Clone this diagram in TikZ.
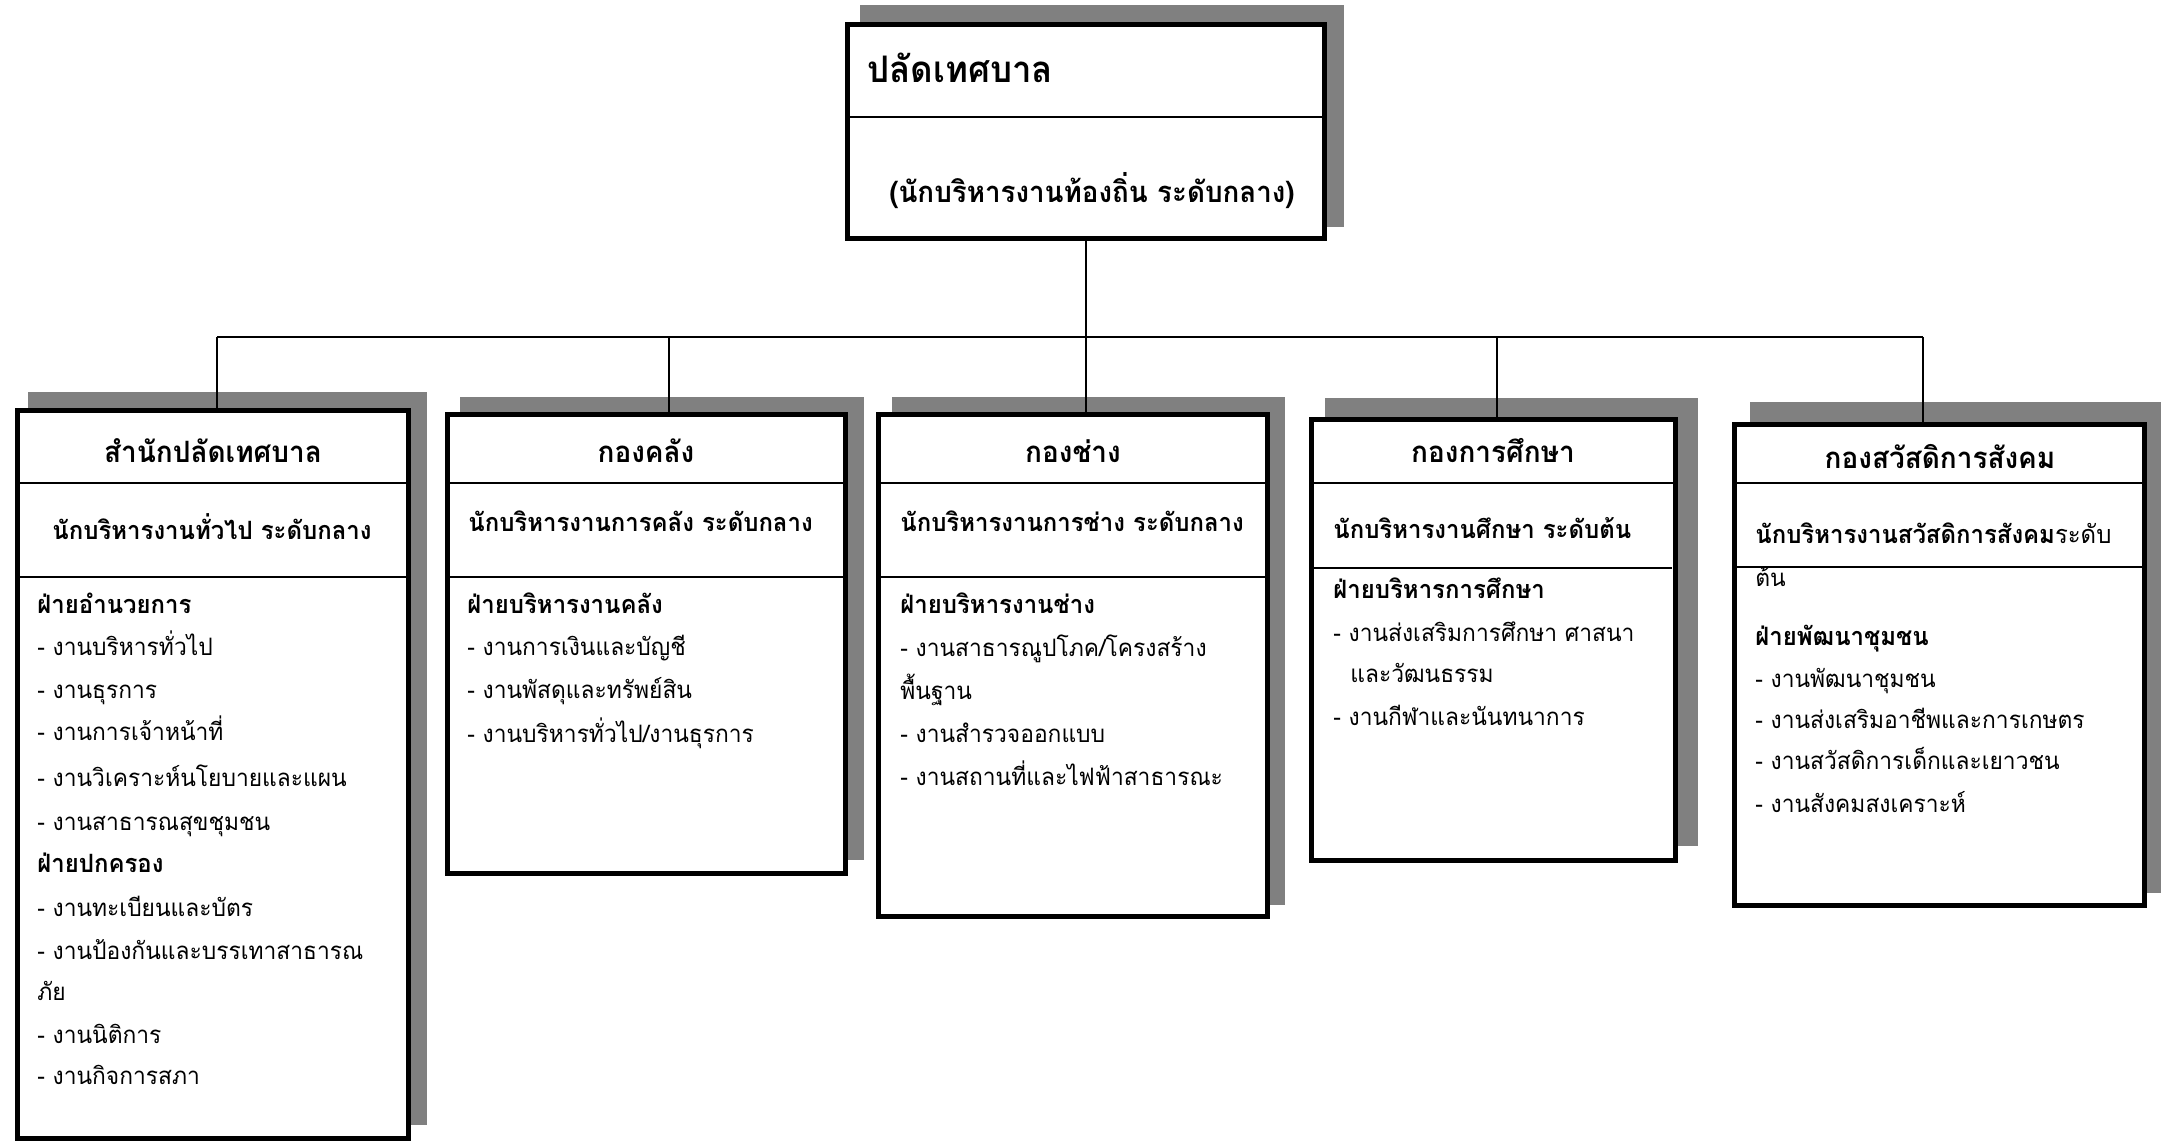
\documentclass[tikz,border=0pt]{standalone}
\usepackage{fontspec}
\newfontfamily\thai[Script=Thai, FakeStretch=0.95]{Loma}
\usetikzlibrary{calc}
\definecolor{shgray}{HTML}{808080}
\tikzset{
  orgbox/.style={draw=black, line width=2.5pt, fill=white, inner sep=0pt, outer sep=0pt, anchor=north west},
  divline/.style={line width=1pt},
  conn/.style={line width=1pt},
  toptitle/.style={font=\thai\bfseries\fontsize{18.3}{20}\selectfont, inner sep=0pt, anchor=base west},
  topsub/.style={font=\thai\bfseries\fontsize{14.6}{17}\selectfont, inner sep=0pt, anchor=base},
  ttl/.style={font=\thai\bfseries\fontsize{14.7}{17}\selectfont, inner sep=0pt, anchor=base},
  subc/.style={font=\thai\bfseries\fontsize{12.6}{15}\selectfont, inner sep=0pt, anchor=base},
  subl/.style={font=\thai\bfseries\fontsize{12.6}{15}\selectfont, inner sep=0pt, anchor=base west},
  head/.style={font=\thai\bfseries\fontsize{12.6}{14}\selectfont, inner sep=0pt, anchor=base west},
  item/.style={font=\thai\fontsize{12}{14}\selectfont, inner sep=0pt, anchor=base west},
}
\newcommand\obox[5]{\node[orgbox, minimum width={(#4-#2-5)*0.5pt}, minimum height={(#5-#3-5)*0.5pt}] (#1) at (#2+2.5,#3+2.5) {};}
\begin{document}
\begin{tikzpicture}[x=0.5pt,y=-0.5pt]
\useasboundingbox (0,0) rectangle (2168,1144);
% shadows drawn under connectors
\fill[shgray] (860,5) rectangle (1344,227);
\fill[shgray] (28,392) rectangle (427,1125);
\fill[shgray] (460,397) rectangle (864,860);
% top box
\obox{top}{845}{22}{1327}{241}
\draw[divline] (top.west |- 0,117) -- (top.east |- 0,117);
% connectors
\coordinate (bus1) at (217,337);
\coordinate (bus2) at (669,337);
\coordinate (bus3) at (1086,337);
\coordinate (bus4) at (1497,337);
\coordinate (bus5) at (1923,337);
\draw[conn] (top.south) -- (top.south |- bus1);
\draw[conn] (bus1) -- (bus5);
% shadows drawn over connectors
\fill[shgray] (892,397) rectangle (1285,905);
\fill[shgray] (1325,398) rectangle (1698,846);
\fill[shgray] (1750,402) rectangle (2161,893);
% boxes
\obox{b1}{15}{408}{411}{1141}
\obox{b2}{445}{412}{848}{876}
\obox{b3}{876}{412}{1270}{919}
\obox{b4}{1309}{417}{1678}{863}
\obox{b5}{1732}{422}{2147}{908}
\draw[conn] (bus1) -- (bus1 |- b1.north);
\draw[conn] (bus2) -- (bus2 |- b2.north);
\draw[conn] (bus3) -- (bus3 |- b3.north);
\draw[conn] (bus4) -- (bus4 |- b4.north);
\draw[conn] (bus5) -- (bus5 |- b5.north);
% dividers
\draw[divline] (b1.west |- 0,483) -- (b1.east |- 0,483);
\draw[divline] (b1.west |- 0,577) -- (b1.east |- 0,577);
\draw[divline] (b2.west |- 0,483) -- (b2.east |- 0,483);
\draw[divline] (b2.west |- 0,577) -- (b2.east |- 0,577);
\draw[divline] (b3.west |- 0,483) -- (b3.east |- 0,483);
\draw[divline] (b3.west |- 0,577) -- (b3.east |- 0,577);
\draw[divline] (b4.west |- 0,483) -- (1674,483);
\draw[divline] (b4.west |- 0,568) -- (1672,568);
\draw[divline] (b5.west |- 0,483) -- (b5.east |- 0,483);
\draw[divline] (b5.west |- 0,567) -- (b5.east |- 0,567);
% top texts
\node[toptitle] (tt) at (867,83) {ปลัดเทศบาล};
\node[topsub] (ts) at (1092,203) {(นักบริหารงานท้องถิ่น ระดับกลาง)};
% titles
\node[ttl] (t1) at (213,462) {สำนักปลัดเทศบาล};
\node[ttl] (t2) at (646,462) {กองคลัง};
\node[ttl] (t3) at (1073,462) {กองช่าง};
\node[ttl] (t4) at (1493,462) {กองการศึกษา};
\node[ttl] (t5) at (1940,468) {กองสวัสดิการสังคม};
% subtitles
\node[subc] (s1) at (212,539) {นักบริหารงานทั่วไป ระดับกลาง};
\node[subl] (s2) at (468,531) {นักบริหารงานการคลัง ระดับกลาง};
\node[subl] (s3) at (900,531) {นักบริหารงานการช่าง ระดับกลาง};
\node[subl] (s4) at (1333,538) {นักบริหารงานศึกษา ระดับต้น};
\node[subl] (s5) at (1755,543) {นักบริหารงานสวัสดิการสังคม\mdseries ระดับ};
\node[item] (s5b) at (1755,586) {ต้น};
% box 1 content
\node[head] (c1a) at (37,613) {ฝ่ายอำนวยการ};
\node[item] (c1b) at (37,655) {- งานบริหารทั่วไป};
\node[item] (c1c) at (37,698) {- งานธุรการ};
\node[item] (c1d) at (37,740) {- งานการเจ้าหน้าที่};
\node[item] (c1e) at (37,786) {- งานวิเคราะห์นโยบายและแผน};
\node[item] (c1f) at (37,830) {- งานสาธารณสุขชุมชน};
\node[head] (c1g) at (37,872) {ฝ่ายปกครอง};
\node[item] (c1h) at (37,916) {- งานทะเบียนและบัตร};
\node[item] (c1i) at (37,959) {- งานป้องกันและบรรเทาสาธารณ};
\node[item] (c1j) at (37,1000) {ภัย};
\node[item] (c1k) at (37,1043) {- งานนิติการ};
\node[item] (c1l) at (37,1084) {- งานกิจการสภา};
% box 2 content
\node[head] (c2a) at (467,613) {ฝ่ายบริหารงานคลัง};
\node[item] (c2b) at (467,655) {- งานการเงินและบัญชี};
\node[item] (c2c) at (467,698) {- งานพัสดุและทรัพย์สิน};
\node[item] (c2d) at (467,742) {- งานบริหารทั่วไป/งานธุรการ};
% box 3 content
\node[head] (c3a) at (900,613) {ฝ่ายบริหารงานช่าง};
\node[item] (c3b) at (900,656) {- งานสาธารณูปโภค/โครงสร้าง};
\node[item] (c3c) at (900,699) {พื้นฐาน};
\node[item] (c3d) at (900,742) {- งานสำรวจออกแบบ};
\node[item] (c3e) at (900,785) {- งานสถานที่และไฟฟ้าสาธารณะ};
% box 4 content
\node[head] (c4a) at (1333,598) {ฝ่ายบริหารการศึกษา};
\node[item] (c4b) at (1333,641) {- งานส่งเสริมการศึกษา ศาสนา};
\node[item] (c4c) at (1350,682) {และวัฒนธรรม};
\node[item] (c4d) at (1333,725) {- งานกีฬาและนันทนาการ};
% box 5 content
\node[head] (c5a) at (1755,645) {ฝ่ายพัฒนาชุมชน};
\node[item] (c5b) at (1755,687) {- งานพัฒนาชุมชน};
\node[item] (c5c) at (1755,728) {- งานส่งเสริมอาชีพและการเกษตร};
\node[item] (c5d) at (1755,769) {- งานสวัสดิการเด็กและเยาวชน};
\node[item] (c5e) at (1755,812) {- งานสังคมสงเคราะห์};
\end{tikzpicture}
\end{document}
